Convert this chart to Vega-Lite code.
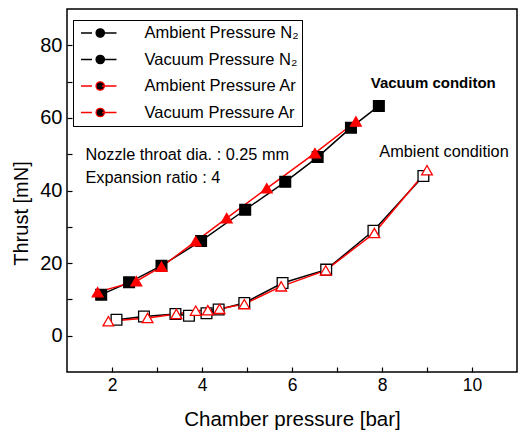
{
  "$schema": "https://vega.github.io/schema/vega-lite/v6.json",
  "width": 450,
  "height": 363,
  "autosize": {"type": "none"},
  "padding": {"left": 67, "top": 9, "right": 1, "bottom": 66},
  "background": "white",
  "config": {
    "font": "Liberation Sans",
    "view": {"stroke": "black", "strokeWidth": 1.5},
    "axis": {"grid": false, "domain": false}
  },
  "datasets": {
    "points": [
      {"series": "Ambient Pressure N₂", "p": 2.10, "thrust": 4.4},
      {"series": "Ambient Pressure N₂", "p": 2.71, "thrust": 5.3},
      {"series": "Ambient Pressure N₂", "p": 3.41, "thrust": 6.0},
      {"series": "Ambient Pressure N₂", "p": 3.71, "thrust": 5.5},
      {"series": "Ambient Pressure N₂", "p": 4.10, "thrust": 6.2},
      {"series": "Ambient Pressure N₂", "p": 4.37, "thrust": 7.2},
      {"series": "Ambient Pressure N₂", "p": 4.94, "thrust": 9.0},
      {"series": "Ambient Pressure N₂", "p": 5.79, "thrust": 14.5},
      {"series": "Ambient Pressure N₂", "p": 6.76, "thrust": 18.2},
      {"series": "Ambient Pressure N₂", "p": 7.81, "thrust": 28.9},
      {"series": "Ambient Pressure N₂", "p": 8.92, "thrust": 44.0},
      {"series": "Vacuum Pressure N₂", "p": 1.76, "thrust": 11.3},
      {"series": "Vacuum Pressure N₂", "p": 2.38, "thrust": 14.7},
      {"series": "Vacuum Pressure N₂", "p": 3.10, "thrust": 19.3},
      {"series": "Vacuum Pressure N₂", "p": 3.98, "thrust": 26.1},
      {"series": "Vacuum Pressure N₂", "p": 4.96, "thrust": 34.7},
      {"series": "Vacuum Pressure N₂", "p": 5.85, "thrust": 42.4},
      {"series": "Vacuum Pressure N₂", "p": 6.57, "thrust": 49.2},
      {"series": "Vacuum Pressure N₂", "p": 7.31, "thrust": 57.3},
      {"series": "Vacuum Pressure N₂", "p": 7.93, "thrust": 63.3},
      {"series": "Ambient Pressure Ar", "p": 1.92, "thrust": 4.0},
      {"series": "Ambient Pressure Ar", "p": 2.79, "thrust": 4.9},
      {"series": "Ambient Pressure Ar", "p": 3.43, "thrust": 6.0},
      {"series": "Ambient Pressure Ar", "p": 3.86, "thrust": 6.9},
      {"series": "Ambient Pressure Ar", "p": 4.13, "thrust": 7.0},
      {"series": "Ambient Pressure Ar", "p": 4.39, "thrust": 7.4},
      {"series": "Ambient Pressure Ar", "p": 4.94, "thrust": 8.7},
      {"series": "Ambient Pressure Ar", "p": 5.76, "thrust": 13.6},
      {"series": "Ambient Pressure Ar", "p": 6.75, "thrust": 18.0},
      {"series": "Ambient Pressure Ar", "p": 7.83, "thrust": 28.3},
      {"series": "Ambient Pressure Ar", "p": 9.00, "thrust": 45.6},
      {"series": "Vacuum Pressure Ar", "p": 1.68, "thrust": 12.0},
      {"series": "Vacuum Pressure Ar", "p": 2.54, "thrust": 15.0},
      {"series": "Vacuum Pressure Ar", "p": 3.10, "thrust": 19.0},
      {"series": "Vacuum Pressure Ar", "p": 3.86, "thrust": 26.0},
      {"series": "Vacuum Pressure Ar", "p": 4.55, "thrust": 32.4},
      {"series": "Vacuum Pressure Ar", "p": 5.44, "thrust": 40.6},
      {"series": "Vacuum Pressure Ar", "p": 6.51, "thrust": 50.3},
      {"series": "Vacuum Pressure Ar", "p": 7.42, "thrust": 59.0}
    ],
    "notes": [
      {"p": 1.41, "thrust": 49.8, "text": "Nozzle throat dia. : 0.25 mm"},
      {"p": 1.41, "thrust": 43.5, "text": "Expansion ratio : 4"},
      {"p": 7.94, "thrust": 50.6, "text": "Ambient condition"}
    ],
    "boldnotes": [
      {"p": 7.75, "thrust": 69.6, "text": "Vacuum conditon"}
    ]
  },
  "layer": [
    {
      "data": {"name": "points"},
      "mark": {"type": "line", "strokeWidth": 1.5},
      "encoding": {
        "x": {"field": "p", "type": "quantitative", "scale": {"domain": [1, 11], "nice": false, "zero": false},
          "axis": {"orient": "bottom", "values": [2, 3, 4, 5, 6, 7, 8, 9, 10], "labelExpr": "datum.value % 2 == 0 ? datum.label : ''", "offset": -5, "tickSize": 5, "tickWidth": 1.2, "tickColor": "black", "labelColor": "black", "labelPadding": 4, "labelFontSize": 17.5, "title": "Chamber pressure [bar]", "titleColor": "black", "titleFontWeight": "normal", "titleFontSize": 20.5, "titlePadding": 16}},
        "y": {"field": "thrust", "type": "quantitative", "scale": {"domain": [-10, 90], "nice": false, "zero": false},
          "axis": {"orient": "left", "values": [0, 10, 20, 30, 40, 50, 60, 70, 80], "labelExpr": "datum.value % 20 == 0 ? datum.label : ''", "offset": -5, "tickSize": 5, "tickWidth": 1.2, "tickColor": "black", "labelColor": "black", "labelPadding": 5, "labelFontSize": 20, "title": "Thrust [mN]", "titleColor": "black", "titleFontWeight": "normal", "titleFontSize": 20, "titlePadding": 8, "titleY": 204}},
        "color": {"field": "series", "type": "nominal",
          "scale": {"domain": ["Ambient Pressure N₂", "Vacuum Pressure N₂", "Ambient Pressure Ar", "Vacuum Pressure Ar"], "range": ["black", "black", "red", "red"]},
          "legend": {"title": null, "orient": "top-left", "offset": 14, "padding": 0, "zindex": 2,
            "symbolType": "stroke", "symbolSize": 1521, "symbolStrokeWidth": 1.5, "symbolDash": [14.5, 10], "symbolOffset": -4.5, "clipHeight": 20, "rowPadding": 6.5,
            "labelFont": "Liberation Sans", "labelFontSize": 16.5, "labelOpacity": 0, "labelOffset": 4, "labelLimit": 300}}
      }
    },
    {
      "data": {"name": "points"},
      "mark": {"type": "point", "opacity": 1, "strokeWidth": 1.3, "size": 115},
      "encoding": {
        "x": {"field": "p", "type": "quantitative"},
        "y": {"field": "thrust", "type": "quantitative"},
        "shape": {"field": "series", "type": "nominal",
          "scale": {"domain": ["Ambient Pressure N₂", "Vacuum Pressure N₂", "Ambient Pressure Ar", "Vacuum Pressure Ar"], "range": ["square", "square", "triangle-up", "triangle-up"]},
          "legend": {"title": null, "orient": "none", "legendX": 6, "legendY": 11, "padding": 3, "zindex": 1, "strokeColor": "black", "fillColor": "white",
            "symbolSize": 70, "symbolStrokeWidth": 1.3, "symbolOffset": 16, "clipHeight": 20, "rowPadding": 6.5,
            "labelFont": "Liberation Sans", "labelFontSize": 16.5, "labelColor": "black", "labelOffset": 36, "labelLimit": 300}},
        "fill": {"field": "series", "type": "nominal",
          "scale": {"domain": ["Ambient Pressure N₂", "Vacuum Pressure N₂", "Ambient Pressure Ar", "Vacuum Pressure Ar"], "range": ["white", "black", "white", "red"]},
          "legend": {"title": null, "orient": "none", "legendX": 6, "legendY": 11, "padding": 3, "zindex": 1, "strokeColor": "black", "fillColor": "white",
            "symbolSize": 70, "symbolStrokeWidth": 1.3, "symbolOffset": 16, "clipHeight": 20, "rowPadding": 6.5,
            "labelFont": "Liberation Sans", "labelFontSize": 16.5, "labelColor": "black", "labelOffset": 36, "labelLimit": 300}},
        "stroke": {"field": "series", "type": "nominal",
          "scale": {"domain": ["Ambient Pressure N₂", "Vacuum Pressure N₂", "Ambient Pressure Ar", "Vacuum Pressure Ar"], "range": ["black", "black", "red", "red"]},
          "legend": {"title": null, "orient": "none", "legendX": 6, "legendY": 11, "padding": 3, "zindex": 1, "strokeColor": "black", "fillColor": "white",
            "symbolSize": 70, "symbolStrokeWidth": 1.3, "symbolOffset": 16, "clipHeight": 20, "rowPadding": 6.5,
            "labelFont": "Liberation Sans", "labelFontSize": 16.5, "labelColor": "black", "labelOffset": 36, "labelLimit": 300}}
      }
    },
    {
      "data": {"name": "notes"},
      "mark": {"type": "text", "align": "left", "baseline": "middle", "fontSize": 16.3, "color": "black"},
      "encoding": {
        "x": {"field": "p", "type": "quantitative"},
        "y": {"field": "thrust", "type": "quantitative"},
        "text": {"field": "text"}
      }
    },
    {
      "data": {"name": "boldnotes"},
      "mark": {"type": "text", "align": "left", "baseline": "middle", "fontSize": 15, "fontWeight": "bold", "color": "black"},
      "encoding": {
        "x": {"field": "p", "type": "quantitative"},
        "y": {"field": "thrust", "type": "quantitative"},
        "text": {"field": "text"}
      }
    }
  ]
}
